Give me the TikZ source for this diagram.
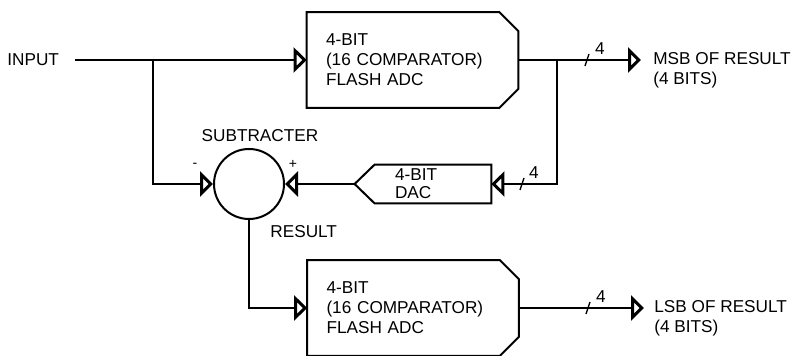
\documentclass[tikz,border=0pt]{standalone}
\usepackage{fontspec}
\setmainfont{Liberation Sans}
\usetikzlibrary{arrows.meta}

\begin{document}
\begin{tikzpicture}[x=0.5pt,y=-0.5pt,
	every node/.style={font=\fontsize{8.6}{10}\selectfont,inner sep=1pt},
	sig/.style={line width=0.7pt},
	box/.style={line width=1pt},
	arr/.style={sig,-{Triangle[open,length=6.5pt,width=12.5pt,line width=1.5pt]}},
	adc/.style={minimum width=105.5pt,minimum height=47.5pt,inner xsep=9.5pt,inner ysep=0pt,text width=86.5pt,align=left},
	dacbox/.style={minimum width=68pt,minimum height=19pt,inner xsep=20pt,inner ysep=0pt,text width=28pt,align=left,font=\fontsize{8.6}{9}\selectfont},
	lbl/.style={anchor=west,align=left},
	sgn/.style={font=\fontsize{7}{8}\selectfont}]
	\useasboundingbox (0,0) rectangle (794,356);

	% blocks
	\node[adc] (adc1) at (412.5,60) {4-BIT\\(16 COMPARATOR)\\FLASH ADC};
	\node[adc] (adc2) at (413,308) {4-BIT\\(16 COMPARATOR)\\FLASH ADC};
	\node[dacbox] (dac) at (423,184) {4-BIT\\DAC};
	\node[circle,draw,box,minimum size=35pt,inner sep=0pt] (sub) at (249,184) {};
	\foreach \b in {adc1,adc2}
		\draw[box] (\b.north west) -- ([xshift=-9.5pt]\b.north east) -- ([yshift=-9.5pt]\b.north east)
			-- ([yshift=9.5pt]\b.south east) -- ([xshift=-9.5pt]\b.south east) -- (\b.south west) -- cycle;
	\draw[box] (dac.west) -- ([xshift=10pt]dac.north west) -- (dac.north east)
		-- (dac.south east) -- ([xshift=10pt]dac.south west) -- cycle;

	% labels
	\node[lbl] (input) at (5,60) {INPUT};
	\node (subl) at (260,136) {SUBTRACTER};
	\node[lbl] (resl) at (268,232) {RESULT};
	\node[sgn] (minus) at (195,165) {-};
	\node[sgn] (plus) at (293,164) {+};
	\node[lbl] (msbl) at (651,70) {MSB OF RESULT\\(4 BITS)};
	\node[lbl] (lsbl) at (652,318) {LSB OF RESULT\\(4 BITS)};
	\node (w1) at (600,49) {4};
	\node (w2) at (534,173) {4};
	\node (w3) at (601,297) {4};

	% points on the wires
	\coordinate (in) at (75,60);
	\coordinate (j1) at (153,60);
	\coordinate (j2) at (557,60);
	\coordinate (msb) at (641,60);
	\coordinate (lsb) at (644,308);
	\coordinate (s1) at (587,60);
	\coordinate (s2) at (522,184);
	\coordinate (s3) at (588,308);

	% wires
	\draw[arr] (in) -- (adc1.west);
	\draw[arr] (j1) |- (sub.west);
	\draw[sig] (adc1.east) -- (j2);
	\draw[arr] (j2) -- (msb);
	\draw[arr] (j2) |- (dac.east);
	\draw[arr] (dac.west) -- (sub.east);
	\draw[arr] (sub.south) |- (adc2.west);
	\draw[arr] (adc2.east) -- (lsb);
	\foreach \s in {s1,s2,s3}
		\draw[sig] ([shift={(-2,6)}]\s) -- ([shift={(2,-6)}]\s);
\end{tikzpicture}
\end{document}
